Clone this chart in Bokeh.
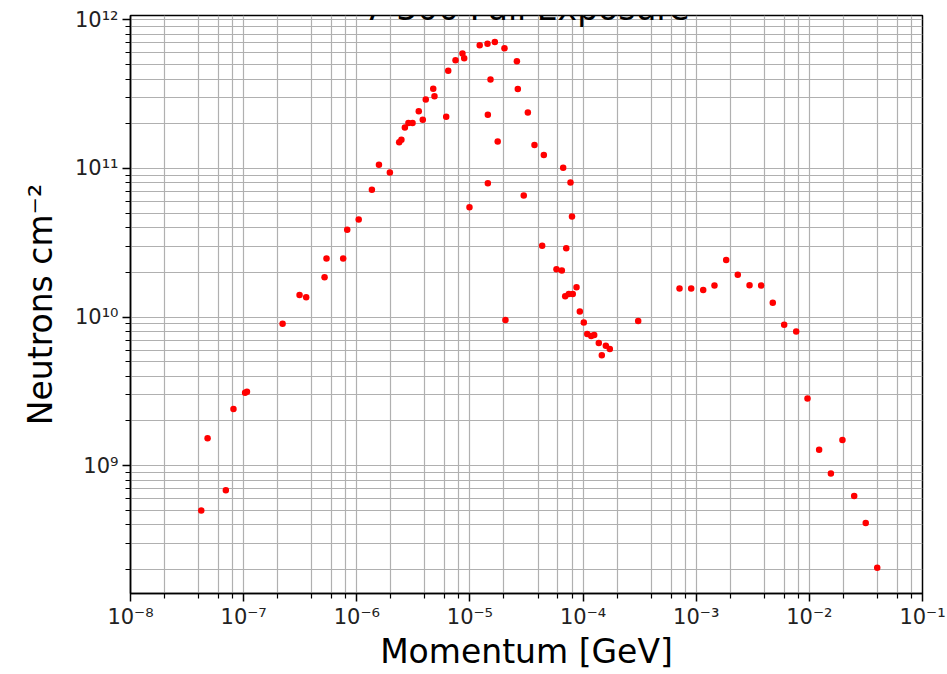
from bokeh.plotting import figure
from bokeh.models import Range1d, FixedTicker, CustomJSTickFormatter, Label
from bokeh.embed import file_html
from bokeh.resources import INLINE

# Labels
title_text = "7-300 Full Exposure"
x_label = "Momentum [GeV]"
y_label = "Neutrons cm⁻²"

# Momentum bins [GeV] and neutron fluence [cm^-2]
momentum = [
    4.22e-8, 4.80e-8, 6.96e-8, 8.13e-8, 1.03e-7, 1.07e-7, 2.21e-7, 3.12e-7,
    3.57e-7, 5.19e-7, 5.40e-7, 7.58e-7, 8.23e-7, 1.04e-6, 1.36e-6, 1.57e-6,
    1.96e-6, 2.37e-6, 2.48e-6, 2.66e-6, 2.86e-6, 3.11e-6, 3.53e-6, 3.83e-6,
    4.07e-6, 4.74e-6, 4.86e-6, 6.17e-6, 6.43e-6, 7.46e-6, 8.59e-6, 8.90e-6,
    9.91e-6, 1.22e-5, 1.43e-5, 1.44e-5, 1.44e-5, 1.52e-5, 1.66e-5, 1.76e-5,
    2.02e-5, 2.06e-5, 2.60e-5, 2.65e-5, 2.99e-5, 3.25e-5, 3.72e-5, 4.35e-5,
    4.50e-5, 5.82e-5, 6.49e-5, 6.67e-5, 6.95e-5, 7.10e-5, 7.48e-5, 7.74e-5,
    7.98e-5, 8.11e-5, 8.75e-5, 9.36e-5, 1.015e-4, 1.088e-4, 1.18e-4, 1.254e-4,
    1.377e-4, 1.464e-4, 1.589e-4, 1.723e-4, 3.07e-4, 7.12e-4, 9.03e-4, 1.153e-3,
    1.45e-3, 1.84e-3, 2.33e-3, 2.96e-3, 3.75e-3, 4.75e-3, 5.99e-3, 7.65e-3,
    9.63e-3, 1.22e-2, 1.55e-2, 1.96e-2, 2.49e-2, 3.15e-2, 3.98e-2,
]
fluence = [
    4.99e8, 1.53e9, 6.84e8, 2.41e9, 3.10e9, 3.15e9, 9.03e9, 1.41e10,
    1.36e10, 1.85e10, 2.48e10, 2.48e10, 3.87e10, 4.54e10, 7.19e10, 1.06e11,
    9.40e10, 1.50e11, 1.56e11, 1.89e11, 2.02e11, 2.02e11, 2.43e11, 2.13e11,
    2.91e11, 3.44e11, 3.06e11, 2.23e11, 4.54e11, 5.35e11, 5.94e11, 5.52e11,
    5.49e10, 6.75e11, 6.90e11, 2.30e11, 7.96e10, 3.97e11, 7.11e11, 1.52e11,
    6.44e11, 9.55e9, 5.27e11, 3.42e11, 6.58e10, 2.38e11, 1.44e11, 3.02e10,
    1.23e11, 2.10e10, 2.06e10, 1.01e11, 1.38e10, 2.91e10, 1.43e10, 8.05e10,
    4.76e10, 1.43e10, 1.59e10, 1.09e10, 9.21e9, 7.69e9, 7.45e9, 7.57e9,
    6.68e9, 5.53e9, 6.42e9, 6.10e9, 9.40e9, 1.56e10, 1.56e10, 1.52e10,
    1.63e10, 2.42e10, 1.93e10, 1.64e10, 1.63e10, 1.25e10, 8.89e9, 8.01e9,
    2.83e9, 1.28e9, 8.85e8, 1.49e9, 6.26e8, 4.12e8, 2.06e8,
]

# Axis ticks
x_ticks = [1e-8, 1e-7, 1e-6, 1e-5, 1e-4, 1e-3, 1e-2, 1e-1]
x_tick_labels = ["10⁻⁸", "10⁻⁷", "10⁻⁶", "10⁻⁵", "10⁻⁴", "10⁻³", "10⁻²", "10⁻¹"]
x_minor_ticks = [m * 10.0 ** k for k in range(-8, -1) for m in (2, 4, 6, 8)]
y_ticks = [1e9, 1e10, 1e11, 1e12]
y_tick_labels = ["10⁹", "10¹⁰", "10¹¹", "10¹²"]
y_minor_ticks = [m * 10.0 ** k for k in range(8, 12) for m in range(2, 10)]

FONT = "DejaVu Sans"
GRID = "#b0b0b0"

p = figure(
    width=947, height=674,
    x_axis_type="log", y_axis_type="log",
    x_range=Range1d(1e-8, 1e-1), y_range=Range1d(1.38e8, 1.07e12),
    output_backend="svg", toolbar_location=None,
    min_border_left=130, min_border_right=25,
    min_border_top=15, min_border_bottom=81,
    background_fill_color="white", border_fill_color="white",
)
p.outline_line_color = "black"
p.outline_line_width = 1.5

label_js = """
let best = 0, bd = Infinity;
for (let i = 0; i < tick_vals.length; i++) {
    const d = Math.abs(Math.log10(tick) - Math.log10(tick_vals[i]));
    if (d < bd) { bd = d; best = i; }
}
return tick_text[best];
"""

xt = FixedTicker(ticks=x_ticks, minor_ticks=x_minor_ticks)
yt = FixedTicker(ticks=y_ticks, minor_ticks=y_minor_ticks)
p.xaxis.ticker = xt
p.yaxis.ticker = yt
p.xgrid.ticker = xt
p.ygrid.ticker = yt
p.xaxis.formatter = CustomJSTickFormatter(
    args=dict(tick_vals=x_ticks, tick_text=x_tick_labels), code=label_js)
p.yaxis.formatter = CustomJSTickFormatter(
    args=dict(tick_vals=y_ticks, tick_text=y_tick_labels), code=label_js)

for ax in (p.xaxis[0], p.yaxis[0]):
    ax.axis_line_color = "black"
    ax.axis_line_width = 1.5
    ax.major_tick_line_color = "black"
    ax.minor_tick_line_color = "black"
    ax.major_tick_line_width = 1.5
    ax.minor_tick_line_width = 1.2
    ax.major_tick_out = 8
    ax.major_tick_in = 0
    ax.minor_tick_out = 5
    ax.minor_tick_in = 0
    ax.major_label_text_font = FONT
    ax.major_label_text_font_size = "21px"
    ax.major_label_text_color = "#222222"
    ax.axis_label_text_font = FONT
    ax.axis_label_text_font_size = "33px"
    ax.axis_label_text_font_style = "normal"
    ax.axis_label_text_color = "black"

p.xaxis.axis_label = x_label
p.yaxis.axis_label = y_label
p.xaxis.major_label_standoff = 3
p.yaxis.major_label_standoff = 4
p.xaxis.axis_label_standoff = 0
p.yaxis.axis_label_standoff = 12

for g in (p.xgrid[0], p.ygrid[0]):
    g.grid_line_color = GRID
    g.grid_line_width = 1.2
    g.minor_grid_line_color = GRID
    g.minor_grid_line_width = 1.2

p.scatter(momentum, fluence, size=6.5, fill_color="red", line_color=None)

# Title sits just above the frame
title = Label(
    x=10 ** -4.5, y=1.07e12, x_units="data", y_units="data", y_offset=7,
    text=title_text, text_align="center", text_baseline="alphabetic",
    text_font=FONT, text_font_size="33px", text_color="black",
)
p.add_layout(title)

open("out.html", "w").write(file_html(p, INLINE))
